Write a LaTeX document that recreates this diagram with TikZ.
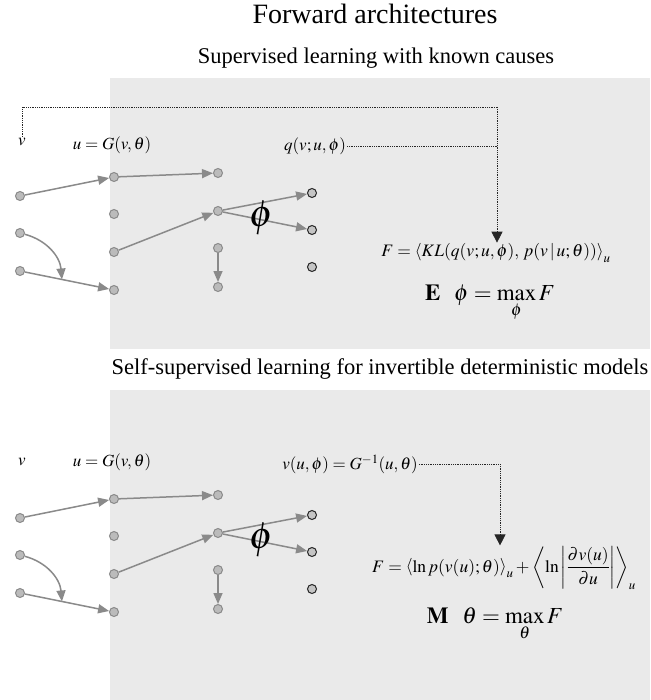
\documentclass[tikz,border=0pt]{standalone}
\usepackage{mathptmx}
\usepackage[no-math]{fontspec}
\setmainfont{Liberation Serif}
\usetikzlibrary{arrows.meta,calc}
\definecolor{panel}{HTML}{EAEAEA}
\definecolor{nfill}{HTML}{BBBBBB}
\definecolor{ndraw}{HTML}{8A8A8A}
\definecolor{edgec}{HTML}{8A8A8A}
\newcommand\mynet[1]{%
  \node[unit] (#1a1) at (20,-196) {};
  \node[unit] (#1a2) at (20,-233) {};
  \node[unit] (#1a3) at (20,-271) {};
  \node[unit] (#1b1) at (114,-177) {};
  \node[unit] (#1b2) at (114,-214) {};
  \node[unit] (#1b3) at (114,-252) {};
  \node[unit] (#1b4) at (114,-290) {};
  \node[unit] (#1c1) at (218,-173) {};
  \node[unit] (#1c2) at (218,-211) {};
  \node[unit] (#1c3) at (218,-248) {};
  \node[unit] (#1c4) at (218,-287) {};
  \node[outunit] (#1d1) at (312,-193) {};
  \node[outunit] (#1d2) at (312,-230) {};
  \node[outunit] (#1d3) at (312,-267) {};
  \draw[arr] (#1a1) -- (#1b1);
  \draw[arr] (#1b1) -- (#1c1);
  \draw[arr] (#1a3) -- (#1b4);
  \path (#1a3) -- (#1b4) coordinate[pos=0.44] (#1m);
  \draw[arr] (#1a2) to[out=-15,in=95] (#1m);
  \draw[arr] (#1b3) -- (#1c2);
  \draw[arr] (#1c2) -- (#1d1);
  \draw[arr] (#1c2) -- (#1d2);
  \draw[arr] (#1c3) -- (#1c4);
  \node[phil] (#1phi) at (262,-218) {$\phi$};
}
\begin{document}
\begin{tikzpicture}[x=1pt,y=1pt,
  unit/.style={circle,inner sep=0pt,minimum size=9pt,fill=nfill,draw=ndraw,line width=1pt},
  outunit/.style={circle,inner sep=0pt,minimum size=9pt,fill=nfill!85,draw=black!85,line width=1pt},
  arr/.style={draw=edgec,line width=1.5pt,-{Triangle[length=11pt,width=9pt]}},
  dots/.style={densely dotted,line width=0.8pt,black!85},
  dotarr/.style={dots,-{Triangle[length=11pt,width=11pt]}},
  lbl/.style={inner sep=1pt,font=\fontsize{17}{19}\selectfont},
  eq/.style={inner sep=1pt,font=\fontsize{17.5}{20}\selectfont},
  bigeq/.style={inner sep=1pt,font=\fontsize{23}{26}\selectfont},
  ttl/.style={inner sep=0pt,font=\fontsize{28}{32}\selectfont},
  subt/.style={inner sep=0pt,font=\fontsize{22.5}{26}\selectfont},
  phil/.style={inner sep=0pt,font=\fontsize{38}{40}\selectfont}]
\useasboundingbox (0,0) rectangle (650,-700);
\fill[white] (0,0) rectangle (650,-700);
\fill[panel] (110,-78) rectangle (650,-349);
\fill[panel] (110,-390) rectangle (650,-700);
\node[ttl,anchor=base] (title) at (375,-24) {Forward architectures};
\node[subt,anchor=base] (s1) at (376,-64) {Supervised learning with known causes};
\node[subt,anchor=base] (s2) at (380,-374) {Self-supervised learning for invertible deterministic models};
% top network
\begin{scope}
\mynet{t}
\end{scope}
\node[lbl] (v1) at (22,-142) {$v$};
\node[lbl] (u1) at (112,-145) {$u=G(v,\theta)$};
\node[lbl] (q1) at (315,-146) {$q(v;u,\phi)$};
\node[eq,anchor=base] (F1) at (496,-257) {$F=\left\langle KL(q(v;u,\phi),\,p(v\,|\,u;\theta))\right\rangle_{u}$};
\node[bigeq,anchor=base] (E1) at (490,-300) {$\mathbf{E}\hspace{0.6em}\phi=\max\limits_{\phi}F$};
\coordinate (k1) at (497,-107);
\draw[dots] (v1.north) |- (k1);
\draw[dotarr] (k1) -- (k1 |- F1.north);
\draw[dots] (q1.east) -- (q1.east -| k1);
% bottom network
\begin{scope}[yshift=-322pt]
\mynet{b}
\end{scope}
\node[lbl] (v2) at (22,-462) {$v$};
\node[lbl] (u2) at (112,-462) {$u=G(v,\theta)$};
\node[lbl] (vi) at (350,-464) {$v(u,\phi)=G^{-1}(u,\theta)$};
\node[eq,anchor=base] (F2) at (504,-572) {$F=\left\langle \ln p(v(u);\theta)\right\rangle_{u}+\left\langle \ln\left|{\displaystyle\frac{\partial v(u)}{\partial u}}\right|\right\rangle_{u}$};
\node[bigeq,anchor=base] (M2) at (495,-623) {$\mathbf{M}\hspace{0.6em}\theta=\max\limits_{\theta}F$};
\coordinate (k2) at (500,-464);
\draw[dots] (vi.east) -- (k2);
\draw[dotarr] (k2) -- (k2 |- F2.north);
\end{tikzpicture}
\end{document}
